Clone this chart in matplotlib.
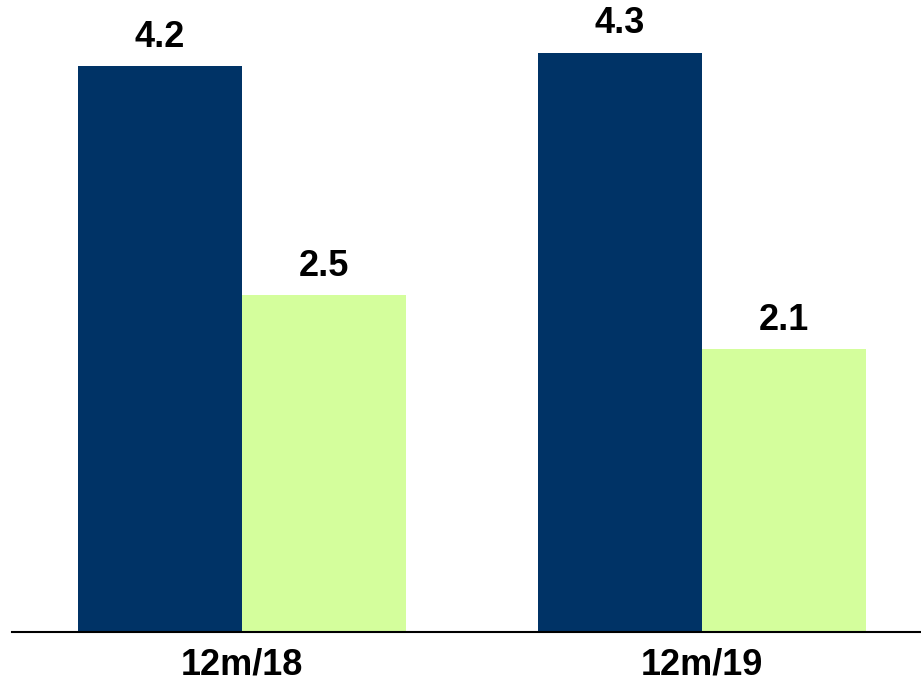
import numpy as np
import matplotlib.pyplot as plt

plt.rcParams['font.family'] = ['Liberation Sans', 'DejaVu Sans']

periods = ['12m/18', '12m/19']
series_a = [4.2, 4.3]
series_b = [2.5, 2.1]

navy = '#003366'
lime = '#d4fe9c'

fig = plt.figure(figsize=(9.21, 6.81), dpi=100)
ax = fig.add_axes([12 / 921, 49 / 681, 909 / 921, 632 / 681])

x = np.arange(len(periods))
w = 0.357
bars_a = ax.bar(x - w / 2, series_a, w, color=navy)
bars_b = ax.bar(x + w / 2, series_b, w, color=lime)

for bars, vals in ((bars_a, series_a), (bars_b, series_b)):
    for b, v in zip(bars, vals):
        ax.annotate(f'{v:.1f}', (b.get_x() + b.get_width() / 2, v),
                    xytext=(0, 8), textcoords='offset points',
                    ha='center', va='bottom', fontsize=26, fontweight='bold')

ax.set_xlim(-0.5, 1.476)
ax.set_ylim(0, 4.69)
ax.set_xticks(x)
ax.set_xticklabels(periods, fontsize=26, fontweight='bold')
ax.tick_params(axis='x', length=0, pad=11)
ax.set_yticks([])
for s in ('top', 'right', 'left'):
    ax.spines[s].set_visible(False)
ax.spines['bottom'].set_linewidth(1.5)

fig.savefig('out.png', dpi=100)
